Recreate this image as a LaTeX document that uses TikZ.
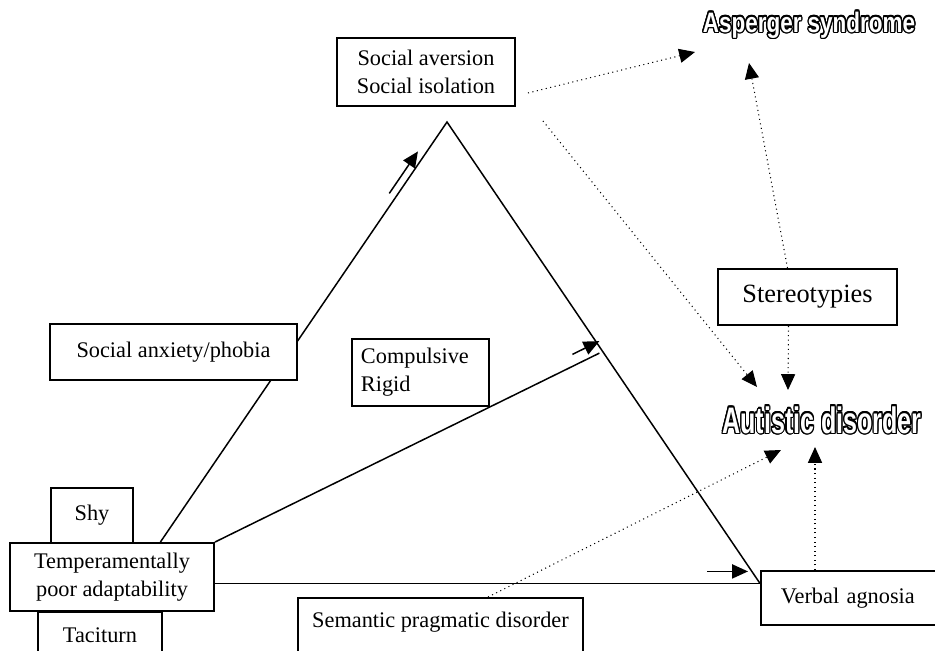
\documentclass[tikz,border=0pt]{standalone}
\usepackage{fontspec}
\setmainfont{Liberation Serif}
\newfontfamily\titlefont{Liberation Sans}
\usepackage{contour}
\contourlength{0.9pt}
\usetikzlibrary{arrows.meta,calc,backgrounds}

\tikzset{
  box/.style={draw, line width=1.1pt, fill=white, inner sep=0pt,
              font=\fontsize{12.7}{15.8}\selectfont},
  side/.style={line width=0.85pt},
  push/.style={line width=0.85pt, -{Triangle[length=9pt,width=8pt]}},
  link/.style={dotted, line width=0.6pt, -{Triangle[length=9pt,width=8pt]}},
  title/.style={font=\titlefont\bfseries, text=white, inner sep=0pt, anchor=base}
}

\begin{document}
\begin{tikzpicture}[x=0.02cm,y=-0.02cm]
  %pixel grid of the page, y runs downwards
  \useasboundingbox (0,0) rectangle (935,650);
  \clip (0,0) rectangle (935,650);

  % the two syndromes
  \node[title] (asperger) at (809,32)
    {\scalebox{0.8}[1]{\fontsize{16}{18}\selectfont\contour{black}{Asperger syndrome}}};
  \node[title] (autistic) at (822,433)
    {\scalebox{0.68}[1]{\fontsize{21}{24}\selectfont\contour{black}{Autistic disorder}}};

  % boxes
  \node[box, minimum width=3.56cm, minimum height=1.36cm, align=center] (aversion) at (426,72)
    {Social aversion\\Social isolation};
  \node[box, minimum width=4.94cm, minimum height=1.12cm] (anxiety) at (173.5,352)
    {Social anxiety/phobia};
  \node[box, anchor=north west, minimum height=1.34cm, inner xsep=0.18cm,
        text width=2.38cm, align=left] (compulsive) at (351,338)
    {Compulsive\\Rigid};
  \node[box, minimum width=3.58cm, minimum height=1.12cm,
        font=\fontsize{15}{18}\selectfont] (stereo) at (807.5,297)
    {Stereotypies};
  \node[box, minimum width=1.64cm, minimum height=1.1cm] (shy) at (92,515.5) {Shy};
  \node[box, minimum width=4.08cm, minimum height=1.36cm, align=center] (temper) at (112,577)
    {Temperamentally\\poor adaptability};
  \node[box, anchor=north west, minimum width=2.48cm, inner ysep=0.32cm,
        text depth=1cm] (taciturn) at (37,611) {Taciturn};
  \node[box, anchor=north west, minimum width=5.7cm, inner ysep=0.28cm,
        text depth=1.5cm] (semantic) at (297,597) {Semantic pragmatic disorder};
  \node[box, anchor=north west, minimum height=1.08cm, inner xsep=0.4cm,
        text width=3.5cm, align=left] (verbal) at (760,570) {Verbal agnosia};

  % the triangle and its arrows
  \begin{scope}[on background layer]
    \coordinate (apex) at (447,122);
    \coordinate (base left) at ($(temper.north west)!0.735!(temper.north east)$);
    \coordinate (base right) at ($(verbal.north west)!0.24!(verbal.south west)$);
    \coordinate (mid) at ($(temper.north east)!1.398!(compulsive.south east)$);
    \draw[side] (base left) -- (apex) -- (base right);
    \draw[side] (temper.north east) -- (mid);
    \draw[side] (base right -| temper.east) -- (base right);
    \draw[push] ($(base left)!0.83!(apex)+(-9,0)$) -- ($(base left)!0.93!(apex)+(-9,0)$);
    \draw[push] ($(temper.north east)!0.93!(mid)+(0,-12)$) -- ($(temper.north east)!1.0!(mid)+(0,-12)$);
    \draw[push] ($(base right)+(-53,-12)$) -- ($(base right)+(-12,-12)$);
  \end{scope}

  % dotted links to the syndromes
  \draw[link] ($(aversion.south east)+(12,-14)$) -- ($(asperger.base)+(-114,20)$);
  \draw[link] ($(aversion.south east)+(27,14)$) -- ($(autistic.base)+(-65,-46)$);
  \draw[link] ($(stereo.north)+(-20,0)$) -- ($(asperger.base)+(-60,31)$);
  \draw[link] ($(stereo.south)+(-19,0)$) -- ($(autistic.base)+(-34,-43)$);
  \draw[link] ($(semantic.north west)+(191,0)$) -- ($(autistic.base)+(-41,17)$);
  \draw[link] ($(verbal.north west)+(55,0)$) -- ($(autistic.base)+(-7,14)$);
\end{tikzpicture}
\end{document}
